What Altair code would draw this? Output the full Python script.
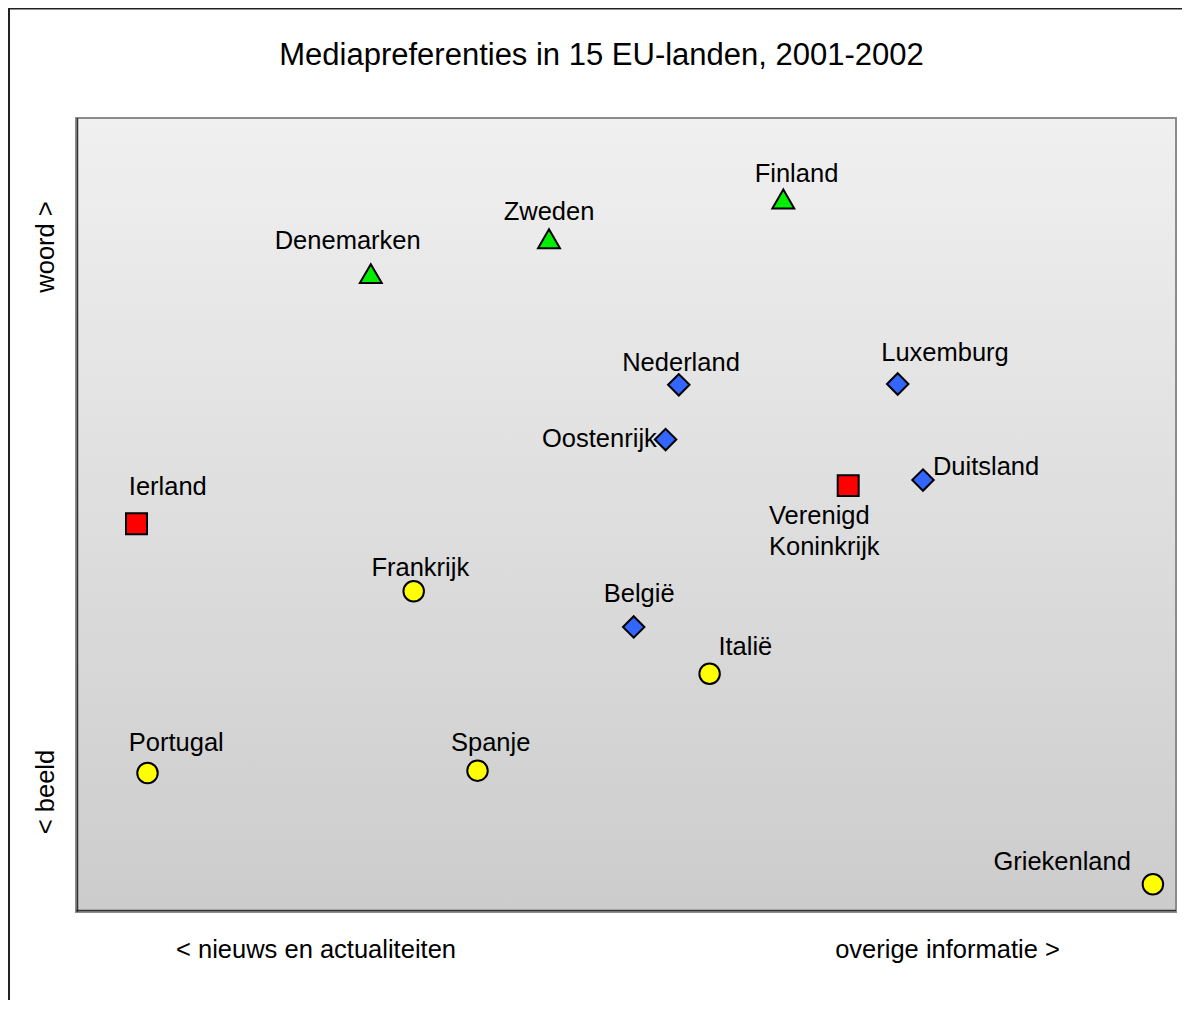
import altair as alt
import pandas as pd

# ---- data ----
countries = ["Finland", "Zweden", "Denemarken", "Nederland", "Luxemburg",
             "Oostenrijk", "Duitsland", "Verenigd\nKoninkrijk", "Ierland",
             "Frankrijk", "België", "Italië", "Portugal", "Spanje", "Griekenland"]
groups = ["Noord", "Noord", "Noord", "Midden", "Midden",
          "Midden", "Midden", "Brits-Iers", "Brits-Iers",
          "Zuid", "Midden", "Zuid", "Zuid", "Zuid", "Zuid"]
# position: nieuws en actualiteiten (0) -> overige informatie (100)
x_vals = [64.3, 43.0, 26.8, 54.8, 74.7, 53.6, 77.0, 70.2, 5.5, 30.7, 50.7, 57.6, 6.5, 36.5, 97.9]
# position: beeld (0) -> woord (100)
y_vals = [89.8, 84.8, 80.4, 66.4, 66.5, 59.5, 54.4, 53.7, 48.9, 40.4, 35.9, 30.0, 17.5, 17.8, 3.5]
# label anchor positions (same data units) and alignment
label_x = [65.5, 43.0, 24.7, 55.0, 79.0, 52.8, 77.9, 63.0, 4.8, 31.3, 51.2, 58.4, 4.8, 37.7, 95.9]
label_y = [93.0, 88.2, 84.5, 69.1, 70.4, 59.6, 56.0, 49.9, 53.5, 43.3, 40.0, 33.4, 21.3, 21.3, 6.3]
label_align = ["center", "center", "center", "center", "center",
               "right", "left", "left", "left",
               "center", "center", "left", "left", "center", "right"]

group_order = ["Noord", "Midden", "Brits-Iers", "Zuid"]
group_shapes = ["triangle-up", "diamond", "square", "circle"]
group_colors = ["#00ee00", "#3366ff", "#ff0000", "#ffff00"]
group_sizes = [480, 420, 420, 430]

title_text = "Mediapreferenties in 15 EU-landen, 2001-2002"
x_left_label = "< nieuws en actualiteiten"
x_right_label = "overige informatie >"
y_top_label = "woord >"
y_bottom_label = "< beeld"

df = pd.DataFrame({
    "land": countries, "groep": groups, "x": x_vals, "y": y_vals,
    "lx": label_x, "ly": label_y, "align": label_align,
})
one = pd.DataFrame({"k": [0]})

W, H = 1100, 794
FONT = "Liberation Sans"
xs = alt.Scale(domain=[0, 100], nice=False, zero=False)
ys = alt.Scale(domain=[0, 100], nice=False, zero=False)

background = alt.Chart(one).mark_rect(
    color=alt.LinearGradient(
        gradient="linear",
        stops=[alt.GradientStop(color="#f0f0f0", offset=0),
               alt.GradientStop(color="#cccccc", offset=1)],
        x1=0, x2=0, y1=0, y2=1)
).encode(x=alt.value(0), x2=alt.value(W), y=alt.value(0), y2=alt.value(H))

frame = alt.Chart(one).mark_rect(
    fillOpacity=0, stroke="#8c8c8c", strokeWidth=2
).encode(x=alt.value(0), x2=alt.value(W), y=alt.value(0), y2=alt.value(H))

left_edge = alt.Chart(one).mark_rule(color="#333333", strokeWidth=1.5).encode(
    x=alt.value(1.5), y=alt.value(0), y2=alt.value(H))
bottom_edge = alt.Chart(one).mark_rule(color="#333333", strokeWidth=1.5).encode(
    x=alt.value(0), x2=alt.value(W), y=alt.value(H - 1.5))

outer = alt.Chart(one).mark_rect(
    fillOpacity=0, stroke="#222222", strokeWidth=2
).encode(x=alt.value(-67), x2=alt.value(W + 60), y=alt.value(-109.5), y2=alt.value(H + 150))

points = alt.Chart(df).mark_point(
    filled=True, stroke="black", strokeWidth=2, opacity=1
).encode(
    x=alt.X("x:Q", scale=xs, axis=None),
    y=alt.Y("y:Q", scale=ys, axis=None),
    shape=alt.Shape("groep:N", scale=alt.Scale(domain=group_order, range=group_shapes), legend=None),
    fill=alt.Fill("groep:N", scale=alt.Scale(domain=group_order, range=group_colors), legend=None),
    size=alt.Size("groep:N", scale=alt.Scale(domain=group_order, range=group_sizes), legend=None),
)

def label_layer(al):
    return alt.Chart(df).transform_filter(
        alt.datum.align == al
    ).mark_text(
        align=al, baseline="middle", fontSize=25.5, font=FONT,
        color="black", lineBreak="\n", lineHeight=31
    ).encode(
        x=alt.X("lx:Q", scale=xs, axis=None),
        y=alt.Y("ly:Q", scale=ys, axis=None),
        text="land:N",
    )

labels = [label_layer(a) for a in ["left", "center", "right"]]

def deco_text(txt, x, y, size=25.5, angle=0, baseline="middle"):
    return alt.Chart(one).mark_text(
        text=txt, fontSize=size, font=FONT, color="black",
        align="center", baseline=baseline, angle=angle
    ).encode(x=alt.value(x), y=alt.value(y))

title = deco_text(title_text, 525.5, -53.5, size=31, baseline="alphabetic")
xl = deco_text(x_left_label, 240, 832)
xr = deco_text(x_right_label, 871.5, 832)
yt = deco_text(y_top_label, -30.4, 129, angle=270)
yb = deco_text(y_bottom_label, -30.4, 674, angle=270)

chart = alt.layer(
    background, frame, left_edge, bottom_edge, outer, points, *labels,
    title, xl, xr, yt, yb
).properties(
    width=W, height=H,
    autosize=alt.AutoSizeParams(type="none"),
    padding={"left": 68, "top": 110, "right": 6, "bottom": 88},
    background="white",
).configure_view(strokeWidth=0)

chart.save("out.html", embed_options={"renderer": "svg", "actions": False})
